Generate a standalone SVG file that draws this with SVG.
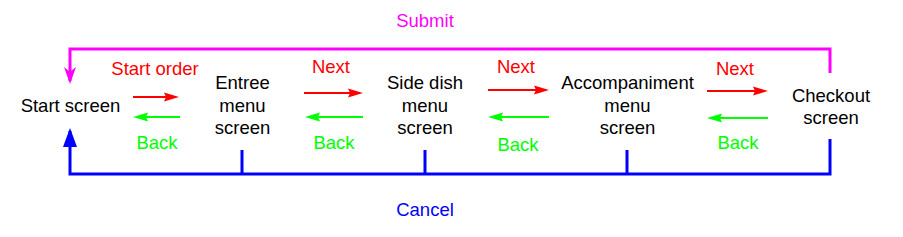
<svg xmlns="http://www.w3.org/2000/svg" width="903" height="237" viewBox="0 0 903 237">
<style>
text{font-family:"Liberation Sans",Arial,sans-serif;font-size:18.5px;text-anchor:middle}
.node{fill:#000}
.red{fill:#FF0000}
.green{fill:#00FF00}
.mag{fill:#FF00FF}
.blue{fill:#0000FF}
.fwd{stroke:#FF0000;stroke-width:2;fill:none}
.bck{stroke:#00FF00;stroke-width:2;fill:none}
.sub{stroke:#FF00FF;stroke-width:3;fill:none}
.can{stroke:#0000FF;stroke-width:3;fill:none}
</style>
<defs>
<marker id="ar" markerUnits="userSpaceOnUse" markerWidth="16" markerHeight="10" viewBox="0 0 16 10" refX="12" refY="5" orient="auto">
<path d="M0,0.5 L15,5 L0,9.5 L2,5 z" fill="#FF0000"/>
</marker>
<marker id="ag" markerUnits="userSpaceOnUse" markerWidth="16" markerHeight="10" viewBox="0 0 16 10" refX="12" refY="5" orient="auto">
<path d="M0,0.5 L15,5 L0,9.5 L2,5 z" fill="#00FF00"/>
</marker>
<marker id="am" markerUnits="userSpaceOnUse" markerWidth="18" markerHeight="14" viewBox="0 0 18 14" refX="14" refY="7" orient="auto">
<path d="M0,1 L17,7 L0,13 L5,7 z" fill="#FF00FF"/>
</marker>
<marker id="ab" markerUnits="userSpaceOnUse" markerWidth="20" markerHeight="16" viewBox="0 0 20 16" refX="16" refY="8" orient="auto">
<path d="M0,1 L19,8 L0,15 z" fill="#0000FF"/>
</marker>
</defs>

<g id="connectors">
<path class="sub" d="M830,73 L830,49 L70,49 L70,81" marker-end="url(#am)"/>
<path class="can" d="M830,139 L830,174 L70,174 L70,131" marker-end="url(#ab)"/>
<path class="can" d="M242,150 L242,174 M425,150 L425,174 M627,150 L627,174"/>
<line class="fwd" x1="133" y1="97" x2="176" y2="97" marker-end="url(#ar)"/>
<line class="bck" x1="180" y1="117" x2="136" y2="117" marker-end="url(#ag)"/>
<line class="fwd" x1="304" y1="93" x2="360" y2="93" marker-end="url(#ar)"/>
<line class="bck" x1="363" y1="117" x2="308" y2="117" marker-end="url(#ag)"/>
<line class="fwd" x1="488" y1="90" x2="546" y2="90" marker-end="url(#ar)"/>
<line class="bck" x1="549" y1="117" x2="491" y2="117" marker-end="url(#ag)"/>
<line class="fwd" x1="707" y1="91" x2="765" y2="91" marker-end="url(#ar)"/>
<line class="bck" x1="768" y1="118" x2="710" y2="118" marker-end="url(#ag)"/>
</g>

<g id="labels">
<text class="mag" x="425" y="27">Submit</text>
<text class="blue" x="425" y="216">Cancel</text>
<text class="red" x="155" y="75">Start order</text>
<text class="green" x="157" y="149">Back</text>
<text class="red" x="331" y="73">Next</text>
<text class="green" x="334" y="149">Back</text>
<text class="red" x="516" y="73">Next</text>
<text class="green" x="518" y="151">Back</text>
<text class="red" x="735" y="75">Next</text>
<text class="green" x="738" y="149">Back</text>
</g>

<g id="start-screen">
<text class="node" x="70.5" y="112">Start screen</text>
</g>
<g id="entree-menu-screen">
<text class="node" x="242.5" y="89">Entree</text>
<text class="node" x="242.5" y="112">menu</text>
<text class="node" x="242.5" y="134">screen</text>
</g>
<g id="side-dish-menu-screen">
<text class="node" x="425" y="89">Side dish</text>
<text class="node" x="425" y="112">menu</text>
<text class="node" x="425" y="134">screen</text>
</g>
<g id="accompaniment-menu-screen">
<text class="node" x="627.5" y="89">Accompaniment</text>
<text class="node" x="627.5" y="112">menu</text>
<text class="node" x="627.5" y="134">screen</text>
</g>
<g id="checkout-screen">
<text class="node" x="831" y="102">Checkout</text>
<text class="node" x="831" y="124">screen</text>
</g>
</svg>
